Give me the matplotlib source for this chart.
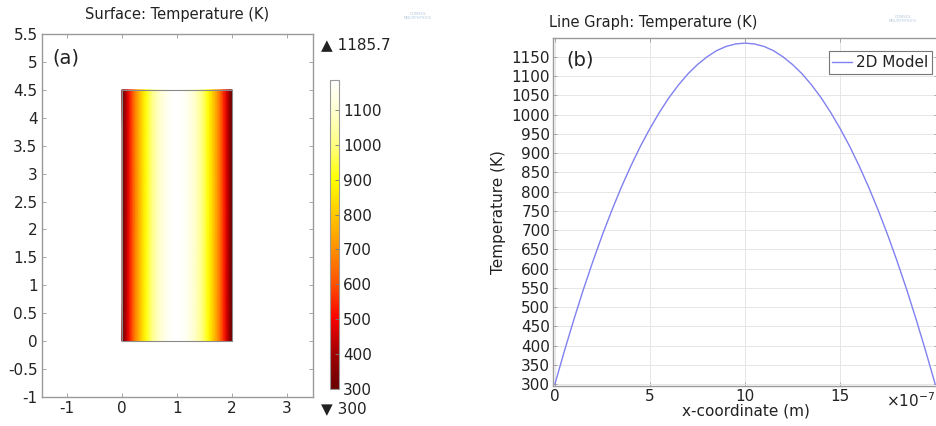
import matplotlib
matplotlib.use("Agg")
import matplotlib.pyplot as plt
import numpy as np
from matplotlib.colors import LinearSegmentedColormap
from matplotlib.ticker import FuncFormatter

# temperature profile across the cell (x in units of 1e-7 m)
x_coord = [0, 0.5, 1, 1.5, 2, 2.5, 3, 3.5, 4, 4.5, 5, 5.5, 6, 6.5, 7, 7.5, 8, 8.5, 9, 9.5,
           10, 10.5, 11, 11.5, 12, 12.5, 13, 13.5, 14, 14.5, 15, 15.5, 16, 16.5, 17, 17.5,
           18, 18.5, 19, 19.5, 20]
temp_k = [300, 386, 468, 546, 619, 688, 752, 812, 867, 918, 964, 1006, 1044, 1077, 1106,
          1130, 1150, 1166, 1177, 1183.5, 1185.7, 1183.5, 1177, 1166, 1150, 1130, 1106,
          1077, 1044, 1006, 964, 918, 867, 812, 752, 688, 619, 546, 468, 386, 300]
t_min = 300
t_max = 1185.7
cbar_ticks = [300, 400, 500, 600, 700, 800, 900, 1000, 1100]
right_yticks = list(range(300, 1151, 50))
right_xticks = [0, 5, 10, 15]

# surface geometry (left panel, µm): same profile across width 0..2
surf_x = np.array(x_coord) * 0.1
surf_y = [0, 4.5]

W, H = 936, 426
plt.rcParams['font.family'] = ['DejaVu Sans']
plt.rcParams['axes.unicode_minus'] = False
fig = plt.figure(figsize=(W / 100, H / 100), dpi=100)

spine_col = '#9a9a9a'
txt_col = '#222222'

thermal = LinearSegmentedColormap.from_list('thermal', [
    (0.000, '#6a0000'),
    (0.113, '#a00000'),
    (0.226, '#f80000'),
    (0.339, '#ff5000'),
    (0.452, '#ff9000'),
    (0.565, '#ffc800'),
    (0.677, '#ffff00'),
    (0.790, '#ffff80'),
    (0.903, '#ffffd0'),
    (1.000, '#ffffff'),
])

# ---------- (a) surface plot ----------
ax1 = fig.add_axes([41.7 / W, 1 - 397 / H, 271.3 / W, 363 / H])
XX, YY = np.meshgrid(surf_x, surf_y)
field = np.array([temp_k, temp_k])
im = ax1.pcolormesh(XX, YY, field, shading='gouraud', cmap=thermal, vmin=t_min, vmax=t_max)
ax1.plot([0, 2, 2, 0, 0], [0, 0, 4.5, 4.5, 0], color='#8a8a8a', lw=0.8)
ax1.set_xlim(-1.46, 3.47)
ax1.set_ylim(-1, 5.5)
ax1.set_xticks([-1, 0, 1, 2, 3])
ax1.set_yticks(np.arange(-1, 5.51, 0.5))
ax1.yaxis.set_major_formatter(FuncFormatter(lambda v, p: f'{v:g}'))
ax1.tick_params(direction='in', top=True, right=True, length=3, width=0.6,
                color=spine_col, labelsize=11, labelcolor=txt_col, pad=3)
for s in ax1.spines.values():
    s.set_color(spine_col)
    s.set_linewidth(1.0)
ax1.set_title('Surface: Temperature (K)', fontsize=10.5, color=txt_col, pad=11)
ax1.text(0.04, 0.96, '(a)', transform=ax1.transAxes, fontsize=14, color=txt_col,
         ha='left', va='top')

cax = fig.add_axes([330 / W, 1 - 389 / H, 9 / W, 309 / H])
cb = fig.colorbar(im, cax=cax, ticks=cbar_ticks)
cb.outline.set_edgecolor(spine_col)
cb.outline.set_linewidth(0.8)
cax.tick_params(direction='in', length=3, width=0.6, color='#777777',
                labelsize=11, labelcolor=txt_col, pad=3)
fig.text(321 / W, 1 - 45 / H, '\u25b2 ' + f'{t_max:g}', fontsize=11, color=txt_col,
         ha='left', va='center')
fig.text(321 / W, 1 - 409 / H, '\u25bc ' + f'{t_min:g}', fontsize=11, color=txt_col,
         ha='left', va='center')

# ---------- (b) line graph ----------
ax2 = fig.add_axes([553 / W, 1 - 386 / H, 385 / W, 348 / H])
ax2.plot(x_coord, temp_k, color='#8080f0', lw=1.0, label='2D Model')
ax2.set_xlim(-0.1, 20.15)
ax2.set_ylim(295, 1199)
ax2.set_xticks(right_xticks)
ax2.set_yticks(right_yticks)
ax2.grid(True, color='#e6e6e6', lw=0.7)
ax2.set_axisbelow(True)
ax2.tick_params(direction='in', top=True, right=True, length=3, width=0.6,
                color=spine_col, labelsize=11, labelcolor=txt_col, pad=2)
for s in ax2.spines.values():
    s.set_color(spine_col)
    s.set_linewidth(1.0)
ax2.set_title('Line Graph: Temperature (K)', fontsize=10.5, color=txt_col,
              loc='left', pad=8, x=-0.01)
ax2.set_xlabel('x-coordinate (m)', fontsize=11, color=txt_col, labelpad=0)
ax2.set_ylabel('Temperature (K)', fontsize=11, color=txt_col, labelpad=4)
ax2.text(0.035, 0.965, '(b)', transform=ax2.transAxes, fontsize=14, color=txt_col,
         ha='left', va='top')
leg = ax2.legend(loc='upper right', bbox_to_anchor=(0.985, 0.962), borderaxespad=0,
                 fontsize=11, handlelength=1.3, handletextpad=0.25, borderpad=0.25,
                 fancybox=False, framealpha=1)
leg.get_frame().set_edgecolor('#777777')
leg.get_frame().set_linewidth(0.8)
for t in leg.get_texts():
    t.set_color(txt_col)
fig.text(0.9995, 1 - 401 / H, '\u00d710$^{-7}$', fontsize=11, color=txt_col,
         ha='right', va='center')

# faint software logos
for lx, ly in [(418 / W, 1 - 16 / H), (903 / W, 1 - 19 / H)]:
    fig.text(lx, ly, 'COMSOL\nMULTIPHYSICS', fontsize=2.8, color='#b3c8dc',
             ha='center', va='center', linespacing=0.9)

fig.savefig('out.png', dpi=100)
